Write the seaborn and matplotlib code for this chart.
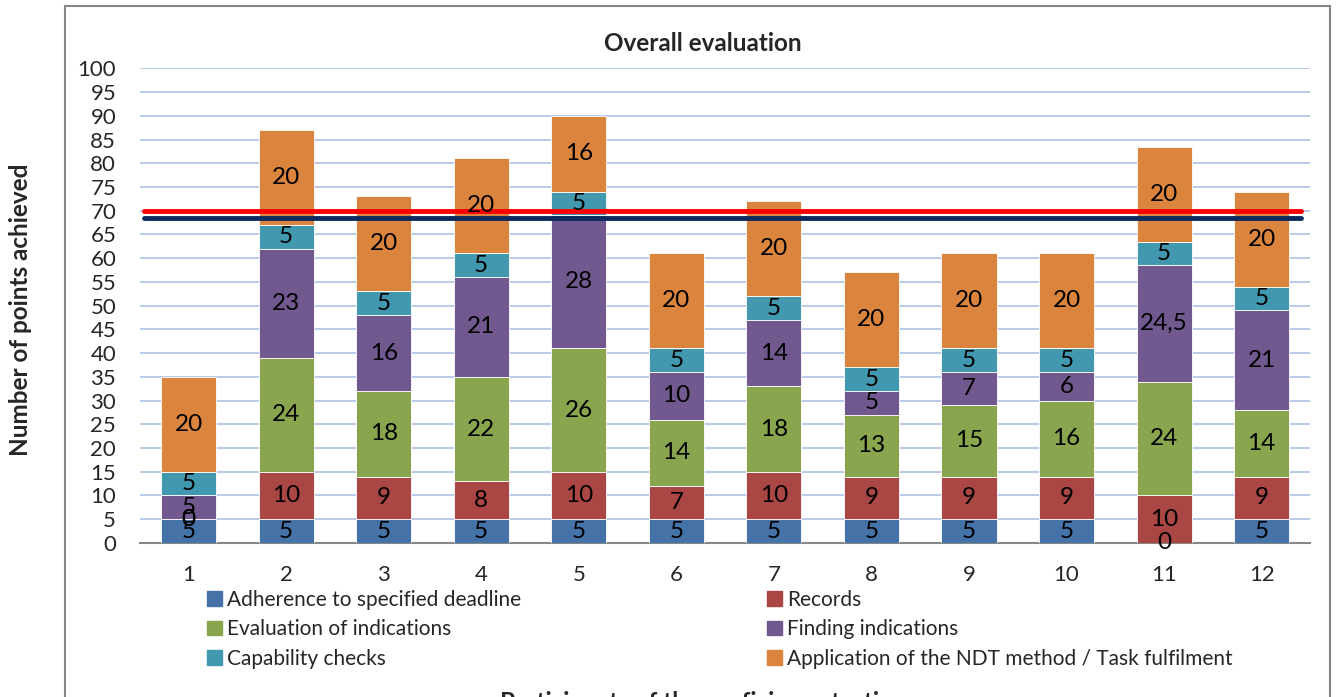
import matplotlib
matplotlib.use("Agg")
import matplotlib.pyplot as plt
import matplotlib.patches as mpatches
import seaborn as sns
import pandas as pd
import numpy as np

participants = [str(i) for i in range(1, 13)]

adherence = [5, 5, 5, 5, 5, 5, 5, 5, 5, 5, 0, 5]
records = [0, 10, 9, 8, 10, 7, 10, 9, 9, 9, 10, 9]
evaluation = [0, 24, 18, 22, 26, 14, 18, 13, 15, 16, 24, 14]
finding = [5, 23, 16, 21, 28, 10, 14, 5, 7, 6, 24.5, 21]
capability = [5, 5, 5, 5, 5, 5, 5, 5, 5, 5, 5, 5]
application = [20, 20, 20, 20, 16, 20, 20, 20, 20, 20, 20, 20]

series_names = [
    "Adherence to specified deadline",
    "Records",
    "Evaluation of indications",
    "Finding indications",
    "Capability checks",
    "Application of the NDT method / Task fulfilment",
]
series_values = [adherence, records, evaluation, finding, capability, application]
colors = ["#4572A7", "#AA4643", "#89A54E", "#71588F", "#4198AF", "#DB843D"]

limit_red = 70
limit_blue = 68.5

sns.set_style("white")
plt.rcParams["font.family"] = ["Lato", "DejaVu Sans"]

fig = plt.figure(figsize=(13.44, 6.97), dpi=100)
ax = fig.add_axes([0.104, 0.221, 0.871, 0.681])

# chart border like the spreadsheet frame
border = mpatches.Rectangle((65 / 1344, -0.02), (1330 - 65) / 1344, 1.011,
                            transform=fig.transFigure, fill=False,
                            edgecolor="#868686", linewidth=1.5, zorder=0)
fig.patches.append(border)

bottom = np.zeros(len(participants))
handles = []
all_labels = []
for name, vals, c in zip(series_names, series_values, colors):
    df = pd.DataFrame({"participant": participants, "points": vals})
    sns.barplot(data=df, x="participant", y="points", bottom=bottom,
                color=c, width=0.565, ax=ax, saturation=1,
                edgecolor="white", linewidth=0.6, zorder=3)
    cont = ax.containers[-1]
    labels = [str(v).replace(".", ",") if v != int(v) else str(int(v)) for v in vals]
    texts = ax.bar_label(cont, labels=labels, label_type="center", fontsize=17.5,
                         color="black")
    all_labels.extend(texts)
    bottom = bottom + np.array(vals, dtype=float)
    handles.append(mpatches.Patch(color=c, label=name))

# labels on top of every bar, like the spreadsheet does
for t in all_labels:
    t.set_zorder(10)

ax.axhline(limit_red, xmin=0.004, xmax=0.992, color="#FF0000", linewidth=3.5, zorder=5)
ax.axhline(limit_blue, xmin=0.004, xmax=0.992, color="#0B2A5E", linewidth=3.5, zorder=5)

ax.set_ylim(0, 100)
ax.set_xlim(-0.5, 11.5)
ax.set_yticks(range(0, 101, 5))
ax.yaxis.grid(True, color="#B3C6E7", linewidth=1.3, zorder=0)
ax.set_axisbelow(True)
for s in ["top", "right", "left"]:
    ax.spines[s].set_visible(False)
ax.spines["bottom"].set_color("#868686")
ax.spines["bottom"].set_linewidth(1.5)
ax.tick_params(axis="both", length=0, labelsize=16)
ax.tick_params(axis="y", pad=17)
ax.tick_params(axis="x", pad=16)
ax.set_xlabel("")
ax.set_ylabel("")

fig.text(0.523, 0.937, "Overall evaluation", ha="center", va="center",
         fontsize=17.5, fontweight="bold")
fig.text(0.015, 0.555, "Number of points achieved", rotation=90, ha="center",
         va="center", fontsize=17.5, fontweight="bold")
fig.text(0.523, -0.008, "Participants of the proficiency testing", ha="center",
         va="center", fontsize=17.5, fontweight="bold")

leg_kw = dict(frameon=False, fontsize=15, handlelength=0.7, handleheight=0.7,
              handletextpad=0.25, labelspacing=0.45, borderaxespad=0, borderpad=0)
leg1 = fig.legend(handles=[handles[0], handles[2], handles[4]], loc="upper left",
                  bbox_to_anchor=(207 / 1344, 1 - 590 / 697), **leg_kw)
leg2 = fig.legend(handles=[handles[1], handles[3], handles[5]], loc="upper left",
                  bbox_to_anchor=(767 / 1344, 1 - 590 / 697), **leg_kw)

fig.savefig("out.png", dpi=100)
